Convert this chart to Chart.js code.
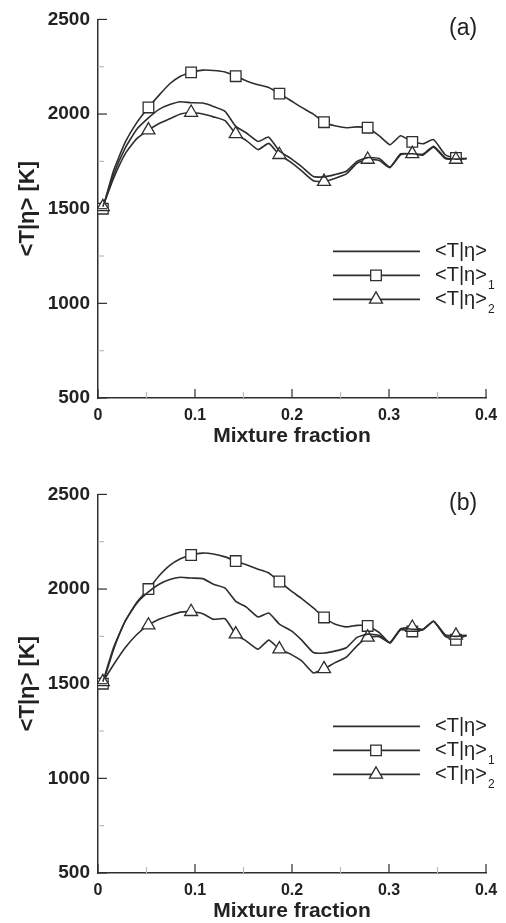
<!DOCTYPE html>
<html>
<head>
<meta charset="utf-8">
<script src="https://cdn.jsdelivr.net/npm/chart.js@4/dist/chart.umd.min.js"></script>
<style>
  html, body { margin: 0; padding: 0; background: #fff; overflow: hidden; }
  .panel { position: absolute; left: 0; width: 506px; height: 460px; }
</style>
</head>
<body>
<div class="panel" style="top:0"><canvas id="chartA" width="506" height="460"></canvas></div>
<div class="panel" style="top:475px"><canvas id="chartB" width="506" height="460"></canvas></div>
<script>
// mixture fraction grid (markers on every 4th point)
const mixFrac = [0.005, 0.016, 0.028, 0.04, 0.052, 0.063, 0.074, 0.085, 0.096, 0.108,
  0.119, 0.131, 0.142, 0.153, 0.165, 0.176, 0.187, 0.199, 0.21, 0.222,
  0.233, 0.244, 0.256, 0.267, 0.278, 0.29, 0.301, 0.312, 0.324, 0.335,
  0.346, 0.358, 0.369, 0.38];

// panel (a)
const tMeanA = [1510, 1680, 1820, 1920, 1980, 2025, 2050, 2065, 2060, 2058,
  2040, 2014, 1935, 1900, 1855, 1878, 1805, 1765, 1722, 1670,
  1668, 1680, 1698, 1750, 1770, 1765, 1720, 1790, 1790, 1788,
  1830, 1770, 1762, 1765];
const tCond1A = [1500, 1700, 1850, 1955, 2035, 2100, 2160, 2200, 2220, 2232,
  2230, 2222, 2200, 2175, 2155, 2140, 2108, 2070, 2035, 2000,
  1957, 1938, 1928, 1932, 1928, 1885, 1838, 1885, 1853, 1843,
  1865, 1785, 1768, 1765];
const tCond2A = [1510, 1660, 1790, 1870, 1915, 1950, 1975, 2000, 2008, 2000,
  1985, 1965, 1895, 1860, 1812, 1845, 1785, 1745, 1700, 1648,
  1643, 1660, 1684, 1740, 1760, 1755, 1717, 1785, 1790, 1783,
  1825, 1765, 1760, 1765];

// panel (b)
const tMeanB = [1510, 1690, 1830, 1925, 1985, 2025, 2050, 2062, 2058, 2055,
  2025, 2005, 1935, 1905, 1852, 1873, 1815, 1780, 1730, 1665,
  1662, 1672, 1690, 1745, 1762, 1755, 1718, 1788, 1788, 1786,
  1830, 1755, 1750, 1755];
const tCond1B = [1500, 1680, 1830, 1930, 2000, 2070, 2125, 2160, 2180, 2190,
  2185, 2170, 2148, 2128, 2105, 2085, 2040, 1990, 1950, 1900,
  1850, 1815, 1800, 1808, 1805, 1770, 1715, 1785, 1776, 1785,
  1830, 1750, 1732, 1755];
const tCond2B = [1510, 1600, 1690, 1760, 1809, 1840, 1860, 1878, 1880, 1870,
  1840, 1843, 1762, 1725, 1682, 1730, 1683, 1655, 1620, 1557,
  1578, 1610, 1640, 1700, 1745, 1748, 1716, 1790, 1797, 1787,
  1830, 1758, 1755, 1755];

const seriesLabels = ["<T|η>", "<T|η>", "<T|η>"];
const seriesSubs = ["", "1", "2"];
const xTicks = [0, 0.1, 0.2, 0.3, 0.4];
const yTicks = [500, 1000, 1500, 2000, 2500];

const FONT = "'Liberation Sans', Arial, sans-serif";
const INK = "#2e2e2e";

function toPoints(ys) {
  return mixFrac.map((x, i) => ({ x: x, y: ys[i] }));
}
const markerRadius = (r) => mixFrac.map((_, i) => (i % 4 === 0 ? r : 0));

function drawMarker(ctx, style, x, y, r) {
  ctx.beginPath();
  if (style === "rect") {
    const s = r * Math.SQRT1_2;
    ctx.rect(x - s, y - s, 2 * s, 2 * s);
  } else if (style === "triangle") {
    ctx.moveTo(x, y - r);
    ctx.lineTo(x + r * 0.866, y + r * 0.5);
    ctx.lineTo(x - r * 0.866, y + r * 0.5);
    ctx.closePath();
  }
  ctx.fillStyle = "#fff";
  ctx.fill();
  ctx.stroke();
}

// inward major/minor ticks, legend and panel tag
const decorPlugin = {
  id: "decor",
  afterDraw(chart) {
    const { ctx, chartArea, scales } = chart;
    const xs = scales.x, ys = scales.y;
    ctx.save();
    ctx.lineWidth = 1.2;
    // y ticks
    for (let v = 500; v <= 2500; v += 250) {
      const py = ys.getPixelForValue(v);
      const major = v % 500 === 0;
      ctx.strokeStyle = major ? INK : "#bbb";
      ctx.beginPath();
      ctx.moveTo(chartArea.left, py);
      ctx.lineTo(chartArea.left + (major ? 9 : 6), py);
      ctx.stroke();
    }
    // x ticks
    for (let k = 0; k <= 8; k++) {
      const v = k * 0.05;
      const px = xs.getPixelForValue(v);
      const major = k % 2 === 0;
      ctx.strokeStyle = major ? INK : "#bbb";
      ctx.beginPath();
      ctx.moveTo(px, chartArea.bottom);
      ctx.lineTo(px, chartArea.bottom - (major ? 9 : 6));
      ctx.stroke();
    }

    // legend
    const styles = [null, "rect", "triangle"];
    const x0 = 333, x1 = 420, xm = 376, xt = 435;
    ctx.strokeStyle = INK;
    ctx.lineWidth = 1.6;
    styles.forEach((st, i) => {
      const y = chartArea.top + 232 + i * 24;
      ctx.beginPath();
      ctx.moveTo(x0, y);
      ctx.lineTo(x1, y);
      ctx.stroke();
      if (st) {
        ctx.lineWidth = 1.3;
        drawMarker(ctx, st, xm, y, 7.5);
        ctx.lineWidth = 1.6;
      }
      ctx.fillStyle = "#222";
      ctx.textBaseline = "middle";
      ctx.textAlign = "left";
      ctx.font = "20px " + FONT;
      ctx.fillText(seriesLabels[i], xt, y);
      if (seriesSubs[i]) {
        const w = ctx.measureText(seriesLabels[i]).width;
        ctx.font = "12px " + FONT;
        ctx.fillText(seriesSubs[i], xt + w + 1, y + 10);
      }
    });

    // panel tag
    ctx.font = "23px " + FONT;
    ctx.fillStyle = "#222";
    ctx.textAlign = "left";
    ctx.textBaseline = "middle";
    ctx.fillText(chart.options.plugins.decor.tag, 449, chartArea.top + 9);
    ctx.restore();
  }
};

function makeChart(id, tag, mean, cond1, cond2) {
  const ctx = document.getElementById(id).getContext("2d");
  const line = { showLine: true, borderColor: INK, borderWidth: 1.6, tension: 0.15,
    pointBackgroundColor: "#fff", pointBorderColor: INK, pointBorderWidth: 1.3, pointHoverRadius: 0 };
  return new Chart(ctx, {
    type: "scatter",
    data: {
      datasets: [
        { ...line, label: "<T|η>", data: toPoints(mean), pointRadius: 0 },
        { ...line, label: "<T|η>2", data: toPoints(cond2), pointStyle: "triangle", pointRadius: markerRadius(7.5) },
        { ...line, label: "<T|η>1", data: toPoints(cond1), pointStyle: "rect", pointRadius: markerRadius(7.5) },
      ],
    },
    options: {
      responsive: false,
      animation: false,
      layout: { padding: { left: 0, right: 20, top: 14, bottom: 0 } },
      plugins: { legend: { display: false }, tooltip: { enabled: false }, decor: { tag: tag } },
      scales: {
        x: {
          type: "linear",
          min: 0,
          max: 0.4,
          border: { display: true, color: INK, width: 1.5 },
          grid: { display: false, drawTicks: false },
          afterBuildTicks: (s) => { s.ticks = xTicks.map((v) => ({ value: v })); },
          ticks: {
            autoSkip: false,
            maxRotation: 0,
            padding: 8,
            color: "#222",
            font: { family: FONT, size: 16, weight: "bold" },
            callback: (v) => (v === 0 ? "0" : Number(v).toFixed(1)),
          },
          title: {
            display: true,
            text: "Mixture fraction",
            color: "#222",
            font: { family: FONT, size: 21, weight: "bold" },
            padding: { top: 0, bottom: 11 },
          },
          afterFit: (s) => { s.height = 62; },
        },
        y: {
          min: 500,
          max: 2500,
          border: { display: true, color: INK, width: 1.5 },
          grid: { display: false, drawTicks: false },
          afterBuildTicks: (s) => { s.ticks = yTicks.map((v) => ({ value: v })); },
          ticks: {
            padding: 8,
            color: "#222",
            font: { family: FONT, size: 19, weight: "bold" },
            callback: (v) => String(v),
          },
          title: {
            display: true,
            text: "<T|η> [K]",
            color: "#222",
            font: { family: FONT, size: 22, weight: "bold" },
            padding: { top: 15, bottom: 0 },
          },
          afterFit: (s) => { s.width = 98; },
        },
      },
    },
    plugins: [decorPlugin],
  });
}

makeChart("chartA", "(a)", tMeanA, tCond1A, tCond2A);
makeChart("chartB", "(b)", tMeanB, tCond1B, tCond2B);
</script>
</body>
</html>
